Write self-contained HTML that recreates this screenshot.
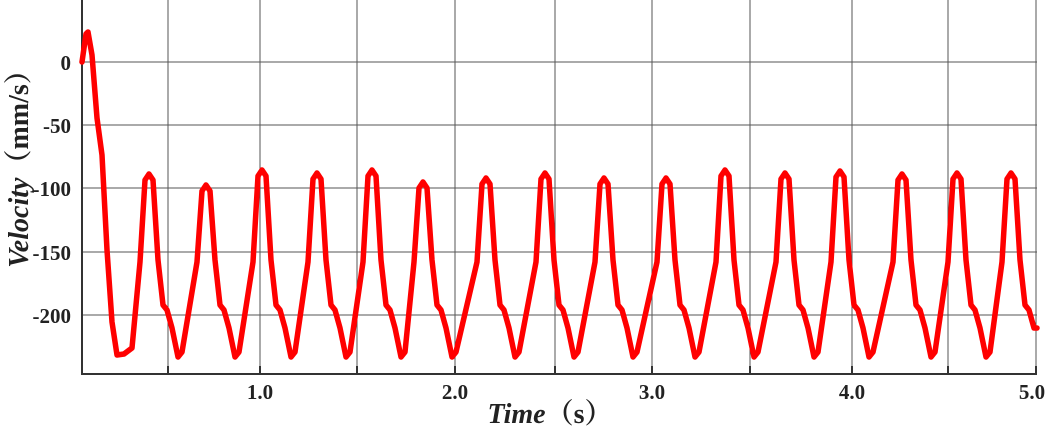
<!DOCTYPE html>
<html><head><meta charset="utf-8"><style>
body{margin:0;background:#fff}
svg{display:block}
text{font-family:"Liberation Serif","Noto Serif CJK SC",serif;font-weight:bold;fill:#222}
</style></head><body>
<svg id="s" width="1050" height="427" viewBox="0 0 1050 427">
<g stroke="#555" stroke-width="1">
<line x1="82" y1="62" x2="1037" y2="62"/><line x1="82" y1="125" x2="1037" y2="125"/>
<line x1="82" y1="188" x2="1037" y2="188"/><line x1="82" y1="252" x2="1037" y2="252"/>
<line x1="82" y1="315" x2="1037" y2="315"/>
<line x1="168" y1="0" x2="168" y2="374"/><line x1="260" y1="0" x2="260" y2="374"/>
<line x1="357" y1="0" x2="357" y2="374"/><line x1="455" y1="0" x2="455" y2="374"/>
<line x1="555" y1="0" x2="555" y2="374"/><line x1="652" y1="0" x2="652" y2="374"/>
<line x1="750" y1="0" x2="750" y2="374"/><line x1="852" y1="0" x2="852" y2="374"/>
<line x1="948" y1="0" x2="948" y2="374"/><line x1="1036" y1="0" x2="1036" y2="374"/>
</g>
<g stroke="#333" stroke-width="2">
<line x1="82" y1="0" x2="82" y2="375"/><line x1="81" y1="374" x2="1037" y2="374"/>
<line x1="168" y1="366" x2="168" y2="374"/><line x1="260" y1="366" x2="260" y2="374"/>
<line x1="357" y1="366" x2="357" y2="374"/><line x1="455" y1="366" x2="455" y2="374"/>
<line x1="555" y1="366" x2="555" y2="374"/><line x1="652" y1="366" x2="652" y2="374"/>
<line x1="750" y1="366" x2="750" y2="374"/><line x1="852" y1="366" x2="852" y2="374"/>
<line x1="948" y1="366" x2="948" y2="374"/><line x1="1036" y1="366" x2="1036" y2="374"/>
</g>
<g font-size="21" text-anchor="end">
<text x="71" y="70">0</text><text x="71" y="133">-50</text><text x="71" y="196">-100</text>
<text x="71" y="260">-150</text><text x="71" y="323">-200</text>
</g>
<g font-size="21" text-anchor="middle">
<text x="260" y="399">1.0</text><text x="455" y="399">2.0</text><text x="652" y="399">3.0</text>
<text x="852" y="399">4.0</text><text x="1032" y="399">5.0</text>
</g>
<text x="550" y="423" font-size="28" text-anchor="middle"><tspan font-style="italic">Time</tspan>（s）</text>
<text transform="translate(28,162) rotate(-90)" font-size="28" text-anchor="middle"><tspan font-style="italic">Velocity</tspan>（mm/s）</text>
<polyline id="p" fill="none" stroke="#ff0000" stroke-width="5.5" stroke-linejoin="round" stroke-linecap="round"/>
</svg>
<script>
var peaks=[[150,174],[207,185],[263,170],[318,173],[373,170],[424,182],[487,178],[546,173],[605,178],[667,178],[726,170],[786,173],[841,171],[903,174],[958,173],[1012,173]];
var pts=[[82,62],[86,34],[88,32],[92,55],[97,118],[102,155],[107,250],[112,322],[117,355],[124,354],[132,348]];
var tpl=[[-10,262],[-5,0],[-1,-5],[3,0],[8,80],[13,125],[17,130],[22,148],[28,177],[32,172]];
peaks.forEach(function(pk,i){
 tpl.forEach(function(t){
  var y=t[0]==-10?262:(t[0]<=3?pk[1]+t[1]+6:180+t[1]);
  if(t[0]==-1)y=pk[1];
  if(t[0]==-5||t[0]==3)y=pk[1]+6;
  pts.push([pk[0]+t[0],y]);
 });
});
pts=pts.filter(function(p){return p[0]<=1037});
pts.push([1037,328]);
document.getElementById('p').setAttribute('points',pts.map(function(p){return p.join(',')}).join(' '));
</script>
</body></html>
